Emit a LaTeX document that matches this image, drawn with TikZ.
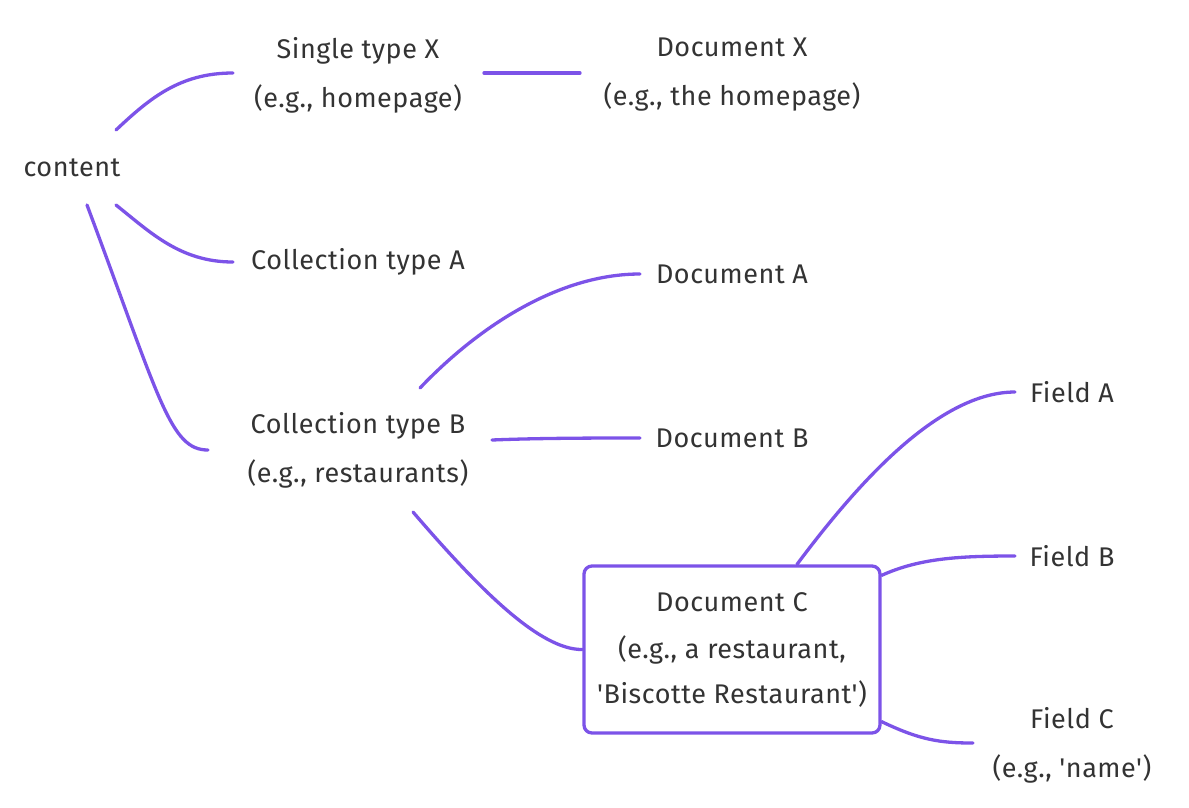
\documentclass[tikz,border=0pt]{standalone}
\usepackage{fontspec}
\setmainfont{Fira Sans}[Ligatures=TeXOff,LetterSpace=2]
\definecolor{edgepurple}{RGB}{124,83,232}
\definecolor{txt}{RGB}{51,51,51}
\begin{document}
\begin{tikzpicture}[x=1pt,y=-1pt,
  lbl/.style={text=txt,align=center,inner sep=0pt,font=\fontsize{27}{49}\selectfont},
  link/.style={draw=edgepurple,line width=3.3pt,line cap=round},
  boxed/.style={lbl,draw=edgepurple,line width=3.3pt,fill=white,rounded corners=8pt,
     minimum width=296pt,minimum height=167pt}]
\useasboundingbox (0,0) rectangle (1189,807);
% nodes
\node[lbl] (content) at (72,168) {content};
\node[lbl] (single) at (358,75) {Single type X\\(e.g., homepage)};
\node[lbl] (docx) at (732,75) {Document X\\(e.g., the homepage)};
\node[lbl] (colla) at (358,262) {Collection type A};
\node[lbl] (collb) at (358,450) {Collection type B\\(e.g., restaurants)};
\node[lbl] (doca) at (732,274) {Document A};
\node[lbl] (docb) at (732,438) {Document B};
\node[boxed] (docc) at (732,649.5) {Document C\\[-2pt](e.g., a restaurant,\\[-4pt]'Biscotte Restaurant')};
\node[lbl] (fa) at (1072,392) {Field A};
\node[lbl] (fb) at (1072,556) {Field B};
\node[lbl] (fc) at (1072,745) {Field C\\(e.g., 'name')};
% connectors
\draw[link] ([shift={(44,-38)}]content.center) .. controls (150,98) and (180,73) .. ([shift={(-125,-2)}]single.center);
\draw[link] ([shift={(44,37)}]content.center) .. controls (150,232) and (180,262) .. ([shift={(-125,0)}]colla.center);
\draw[link] ([shift={(15,37)}]content.center) .. controls (160,400) and (170,450) .. ([shift={(-150,0)}]collb.center);
\draw[link] ([shift={(126,-2)}]single.center) -- ([shift={(-152,-2)}]docx.center);
\draw[link] ([shift={(62,-62)}]collb.center) .. controls (480,325) and (560,274) .. ([shift={(-92,0)}]doca.center);
\draw[link] ([shift={(134,-10)}]collb.center) .. controls (540,438) and (600,438) .. ([shift={(-92,0)}]docb.center);
\draw[link] ([shift={(55,62)}]collb.center) .. controls (480,590) and (540,650) .. (docc.west);
\draw[link] ([xshift=65pt]docc.north) .. controls (860,480) and (940,392) .. ([shift={(-57,0)}]fa.center);
\draw[link] ([yshift=-11pt]docc.north east) .. controls (920,558) and (960,556) .. ([shift={(-57,0)}]fb.center);
\draw[link] ([yshift=13pt]docc.south east) .. controls (920,740) and (940,743) .. ([shift={(-99,-2)}]fc.center);
\end{tikzpicture}
\end{document}
